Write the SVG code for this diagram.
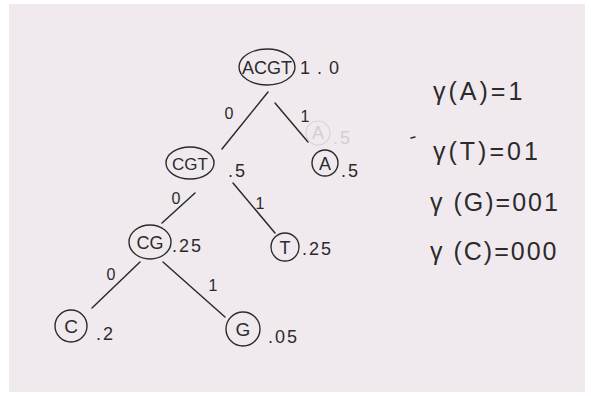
<svg xmlns="http://www.w3.org/2000/svg" width="591" height="396" viewBox="0 0 591 396">
<defs>
<style>
.node{fill:none;stroke:#2b2b2b;stroke-width:1.4}
.edge{stroke:#2b2b2b;stroke-width:1.5;fill:none;stroke-linecap:round}
.t{font-family:"Liberation Sans","DejaVu Sans",sans-serif;fill:#2b2b2b}
.lbl{font-size:18px;letter-spacing:2px}
.w{font-size:16px;text-anchor:middle}
.code{font-size:25px;letter-spacing:2px}
.ghost{fill:none;stroke:#dcd2d9;stroke-width:1.2}
.gt{fill:#d6ccd3}
</style>
</defs>
<rect x="0" y="0" width="591" height="396" fill="#ffffff"/>
<rect x="9" y="4" width="576" height="388" fill="#f0eaef"/>

<g id="connectors">
<line class="edge" x1="268" y1="92" x2="222" y2="149"/>
<line class="edge" x1="275" y1="103" x2="308" y2="142"/>
<line class="edge" x1="195" y1="193" x2="162" y2="223"/>
<line class="edge" x1="233" y1="183" x2="275" y2="233"/>
<line class="edge" x1="140" y1="262" x2="92" y2="308"/>
<line class="edge" x1="163" y1="262" x2="225" y2="317"/>
<text class="t w" x="229" y="119">0</text>
<text class="t w" x="305" y="122">1</text>
<text class="t w" x="176" y="204">0</text>
<text class="t w" x="260" y="209">1</text>
<text class="t w" x="111" y="280">0</text>
<text class="t w" x="213" y="291">1</text>
</g>

<g id="ghost">
<ellipse class="ghost" cx="318" cy="133" rx="12" ry="12"/>
<text class="t lbl gt" x="312" y="139">A</text>
<text class="t lbl gt" x="333" y="144">.5</text>
</g>

<g id="node-ACGT">
<ellipse class="node" cx="267" cy="67" rx="28" ry="18"/>
<text class="t" x="267" y="74" font-size="18" text-anchor="middle">ACGT</text>
<text class="t lbl" x="300" y="74" style="letter-spacing:7px">1.0</text>
</g>

<g id="node-CGT">
<ellipse class="node" cx="190" cy="163" rx="24" ry="16"/>
<text class="t" x="190" y="170" font-size="17" text-anchor="middle">CGT</text>
<text class="t lbl" x="228" y="177">.5</text>
</g>

<g id="node-A">
<circle class="node" cx="325" cy="163" r="13"/>
<text class="t" x="325" y="170" font-size="18" text-anchor="middle">A</text>
<text class="t lbl" x="341" y="177">.5</text>
</g>

<g id="node-CG">
<ellipse class="node" cx="150" cy="242" rx="21" ry="17"/>
<text class="t" x="150" y="249" font-size="18" text-anchor="middle">CG</text>
<text class="t lbl" x="172" y="252">.25</text>
</g>

<g id="node-T">
<circle class="node" cx="285" cy="247" r="14"/>
<text class="t" x="285" y="254" font-size="18" text-anchor="middle">T</text>
<text class="t lbl" x="302" y="255">.25</text>
</g>

<g id="node-C">
<circle class="node" cx="71" cy="326" r="16"/>
<text class="t" x="71" y="333" font-size="19" text-anchor="middle">C</text>
<text class="t lbl" x="96" y="340">.2</text>
</g>

<g id="node-G">
<circle class="node" cx="243" cy="329" r="17"/>
<text class="t" x="243" y="336" font-size="19" text-anchor="middle">G</text>
<text class="t lbl" x="268" y="343">.05</text>
</g>

<g id="codes">
<text class="t code" x="433" y="100" style="letter-spacing:3px">γ(A)=1</text>
<line class="edge" x1="411" y1="138" x2="415" y2="137" stroke-width="1"/>
<text class="t code" x="433" y="160" style="letter-spacing:3px">γ(T)=01</text>
<text class="t code" x="430" y="211">γ (G)=001</text>
<text class="t code" x="430" y="260">γ (C)=000</text>
</g>
</svg>
